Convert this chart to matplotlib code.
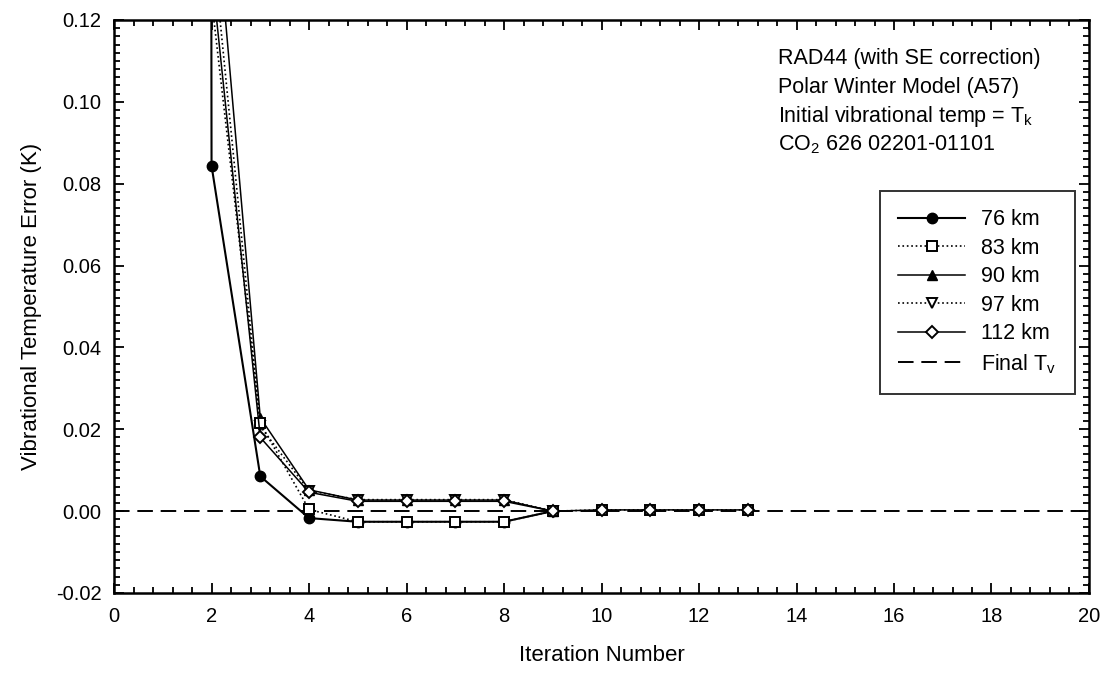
import numpy as np
import matplotlib.pyplot as plt
from matplotlib.ticker import MultipleLocator, FormatStrFormatter

plt.rcParams['font.family'] = ['Liberation Sans', 'DejaVu Sans']
plt.rcParams['mathtext.fontset'] = 'custom'
plt.rcParams['mathtext.rm'] = 'Liberation Sans'
plt.rcParams['mathtext.it'] = 'Liberation Sans'

# iteration error per altitude (K)
it_76 = [1, 2, 3, 4, 5, 6, 7, 8, 9]
err_76 = [10.0, 0.0844, 0.0085, -0.0017, -0.0026, -0.0026, -0.0026, -0.0026, 0.0]

it_83 = [1, 2, 3, 4, 5, 6, 7, 8, 9, 10, 11, 12, 13]
err_83 = [10.0, 0.125, 0.0215, 0.0004, -0.0026, -0.0026, -0.0026, -0.0026, 0.0,
          0.0003, 0.0003, 0.0003, 0.0003]

it_90 = [1, 2, 3, 4, 5, 6, 7, 8, 9]
err_90 = [10.0, 0.159, 0.0228, 0.0052, 0.0027, 0.0027, 0.0027, 0.0027, 0.0]

it_97 = [1, 2, 3, 4, 5, 6, 7, 8, 9]
err_97 = [10.0, 0.141, 0.0207, 0.0050, 0.0028, 0.0028, 0.0028, 0.0028, 0.0]

it_112 = [1, 2, 3, 4, 5, 6, 7, 8, 9, 10, 11, 12, 13]
err_112 = [10.0, 0.132, 0.0180, 0.0046, 0.0024, 0.0024, 0.0024, 0.0024, 0.0,
           0.0003, 0.0003, 0.0003, 0.0003]

final_tv = 0.0

fig = plt.figure(figsize=(11.03, 6.73), dpi=100)
ax = fig.add_axes([0.1034, 0.1189, 0.8839, 0.8514])

ax.plot(it_76, err_76, '-', color='black', lw=1.5, marker='o', ms=7.5,
        mfc='black', mec='black', label='76 km', zorder=3)
ax.plot(it_83, err_83, ':', color='black', lw=1.2, marker='s', ms=6.5,
        mfc='white', mec='black', mew=1.4, label='83 km', zorder=4)
ax.plot(it_90, err_90, '-', color='black', lw=1.1, marker='^', ms=7.5,
        mfc='black', mec='black', label='90 km', zorder=3)
ax.plot(it_97, err_97, ':', color='black', lw=1.2, marker='v', ms=7.5,
        mfc='white', mec='black', mew=1.4, label='97 km', zorder=3)
ax.plot(it_112, err_112, '-', color='black', lw=1.1, marker='D', ms=6.5,
        mfc='white', mec='black', mew=1.4, label='112 km', zorder=4)
ax.axhline(final_tv, color='black', lw=1.4, ls=(0, (8, 4)),
           label=r'Final T$_\mathregular{v}$', zorder=2)

ax.set_xlim(0, 20)
ax.set_ylim(-0.02, 0.12)
ax.xaxis.set_major_locator(MultipleLocator(2))
ax.xaxis.set_minor_locator(MultipleLocator(0.4))
ax.yaxis.set_major_locator(MultipleLocator(0.02))
ax.yaxis.set_minor_locator(MultipleLocator(0.002))
ax.yaxis.set_major_formatter(FormatStrFormatter('%.2f'))
ax.tick_params(which='both', direction='in', top=True, right=True,
               labelsize=14.5, width=1.3)
ax.tick_params(which='major', length=7)
ax.tick_params(which='minor', length=4)
ax.tick_params(axis='x', which='major', pad=10)
ax.tick_params(axis='y', which='major', pad=9)
for s in ax.spines.values():
    s.set_linewidth(1.8)

ax.set_xlabel('Iteration Number', fontsize=16, labelpad=14)
ax.set_ylabel('Vibrational Temperature Error (K)', fontsize=16, labelpad=10)

info = ['RAD44 (with SE correction)',
        'Polar Winter Model (A57)',
        r'Initial vibrational temp = T$_\mathregular{k}$',
        r'CO$_\mathregular{2}$ 626 02201-01101']
for i, line in enumerate(info):
    ax.text(0.681, 0.9225 - i * 0.050, line, transform=ax.transAxes,
            fontsize=15.5, va='baseline', ha='left')

leg = ax.legend(loc='upper left', bbox_to_anchor=(0.7856, 0.7016),
                borderaxespad=0, fontsize=15.5, frameon=True, fancybox=False,
                edgecolor='black', handlelength=3.1, handletextpad=0.75,
                borderpad=0.85, labelspacing=0.35)
leg.get_frame().set_linewidth(1.4)

fig.savefig('out.png', dpi=100)
